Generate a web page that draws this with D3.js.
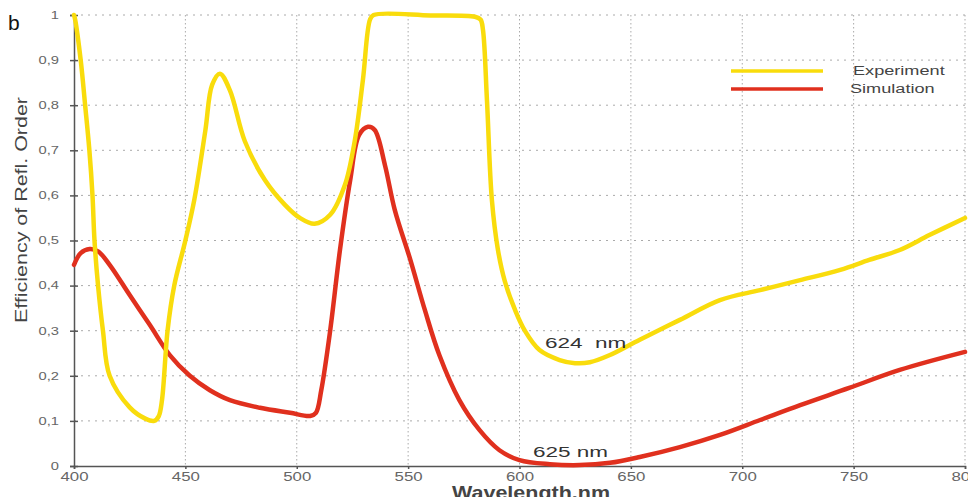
<!DOCTYPE html>
<html>
<head>
<meta charset="utf-8">
<script src="https://cdn.jsdelivr.net/npm/d3@7"></script>
<style>
  body { margin: 0; background: #fff; }
  svg { display: block; font-family: "Liberation Sans", Arial, sans-serif; }
</style>
</head>
<body>
<svg id="chart" width="968" height="497"></svg>
<script>
// wavelength (nm) / efficiency
const expWl = [400, 400.5, 403, 405, 406.9, 408.3, 409.2, 410.8, 413, 416, 425, 432, 436, 438, 439.5, 442, 445, 450, 454, 459, 462, 465.5, 470, 476.7, 485.7, 494.7, 501.4, 508, 515, 521.6, 526, 529.7, 532.9, 534.5, 560, 580, 582.5, 583.6, 585.4, 587.6, 590.3, 593.4, 598, 602.4, 609, 618, 624.9, 631.6, 640.6, 654, 672, 690, 708, 726, 744, 757, 770.7, 784, 800];
const expVal = [1.0, 0.99, 0.9, 0.8, 0.7, 0.6, 0.5, 0.4, 0.3, 0.2, 0.13, 0.105, 0.1, 0.11, 0.146, 0.30, 0.40, 0.50, 0.59, 0.745, 0.845, 0.87, 0.833, 0.72, 0.634, 0.579, 0.55, 0.537, 0.557, 0.623, 0.72, 0.856, 0.99, 1.0, 0.999, 0.996, 0.99, 0.967, 0.81, 0.59, 0.48, 0.41, 0.346, 0.30, 0.257, 0.235, 0.228, 0.23, 0.246, 0.28, 0.324, 0.368, 0.39, 0.412, 0.435, 0.457, 0.479, 0.512, 0.55];

const simWl = [400, 403, 407, 410.8, 416, 425, 434, 443, 452, 461, 470, 483.5, 497, 506, 508.6, 511, 515, 519.4, 524, 528, 532, 535, 539.6, 544, 551, 557.5, 564, 573, 582, 591, 600, 613.6, 627, 640.6, 654, 672, 690, 708, 726, 748, 770.7, 800];
const simVal = [0.446, 0.472, 0.481, 0.476, 0.446, 0.379, 0.313, 0.246, 0.20, 0.168, 0.146, 0.129, 0.118, 0.111, 0.118, 0.168, 0.30, 0.479, 0.634, 0.734, 0.752, 0.745, 0.667, 0.568, 0.457, 0.346, 0.246, 0.146, 0.08, 0.035, 0.013, 0.004, 0.002, 0.007, 0.02, 0.042, 0.069, 0.102, 0.135, 0.173, 0.213, 0.253];

const xTicks = [400, 450, 500, 550, 600, 650, 700, 750, 800];
const yTicks = [0, 0.1, 0.2, 0.3, 0.4, 0.5, 0.6, 0.7, 0.8, 0.9, 1];
const seriesNames = ["Experiment", "Simulation"];
const seriesColors = ["#f9dc0c", "#e0301e"];

const svg = d3.select('#chart');
const x = d3.scaleLinear().domain([400, 800]).range([74, 965]);
const y = d3.scaleLinear().domain([0, 1]).range([466, 15]);

// the original's lettering is stretched sideways
const stretch = (sel, k) => sel.each(function() {
    const w = this.getComputedTextLength();
    d3.select(this).attr('textLength', w * k).attr('lengthAdjust', 'spacingAndGlyphs');
});

// grid
svg.append('g').selectAll('line')
    .data(yTicks.filter(d => d > 0))
    .enter().append('line')
    .attr('x1', 74).attr('x2', 965)
    .attr('y1', d => y(d)).attr('y2', d => y(d))
    .attr('stroke', '#aaa').attr('stroke-width', 1)
    .attr('stroke-dasharray', '2,5');

svg.append('g').selectAll('line')
    .data(xTicks.filter(d => d > 400))
    .enter().append('line')
    .attr('x1', d => x(d)).attr('x2', d => x(d))
    .attr('y1', 15).attr('y2', 466)
    .attr('stroke', '#aaa').attr('stroke-width', 1)
    .attr('stroke-dasharray', '1.5,2.5');

// axes
const fmt = d => d === 0 || d === 1 ? String(d) : d3.format('.1f')(d).replace('.', ',');
const yAxis = svg.append('g').attr('transform', 'translate(74,0)')
    .call(d3.axisLeft(y).tickValues(yTicks).tickFormat(fmt).tickSize(4).tickPadding(11));
const xAxis = svg.append('g').attr('transform', 'translate(0,466)')
    .call(d3.axisBottom(x).tickValues(xTicks).tickSize(3).tickPadding(3));

[yAxis, xAxis].forEach(a => {
    a.select('.domain').attr('stroke', '#555').attr('stroke-width', 1.5);
    a.selectAll('.tick line').attr('stroke', '#555').attr('stroke-width', 1.5);
    a.selectAll('text').attr('fill', '#666').attr('font-family', 'Liberation Sans, Arial, sans-serif');
});
yAxis.selectAll('text').attr('font-size', 10.5).call(stretch, 1.4);
xAxis.selectAll('text').attr('font-size', 12).call(stretch, 1.4);
yAxis.selectAll('.tick').append('line').attr('x2', 4).attr('stroke', '#555').attr('stroke-width', 1.5);

// curves
const line = d3.line().x(d => x(d[0])).y(d => y(d[1])).curve(d3.curveCatmullRom.alpha(0.5));
const series = [d3.zip(expWl, expVal), d3.zip(simWl, simVal)];

svg.selectAll('path.series')
    .data([series[1], series[0]])
    .enter().append('path')
    .attr('class', 'series')
    .attr('d', line)
    .attr('fill', 'none')
    .attr('stroke', (d, i) => seriesColors[1 - i])
    .attr('stroke-width', 4.5)
    .attr('stroke-linejoin', 'round')
    .attr('stroke-linecap', 'round');

// legend
const legend = svg.append('g');
seriesNames.forEach((name, i) => {
    const ly = 71 + i * 18;
    legend.append('line')
        .attr('x1', 731).attr('x2', 823).attr('y1', ly).attr('y2', ly)
        .attr('stroke', seriesColors[i]).attr('stroke-width', 3.5);
    legend.append('text')
        .attr('x', i === 0 ? 853 : 850).attr('y', ly + 4)
        .attr('font-size', 12.5).attr('fill', '#444')
        .text(name)
        .call(stretch, 1.45);
});

// annotations
svg.append('text').attr('x', 545).attr('y', 348)
    .attr('font-size', 15).attr('fill', '#333').attr('xml:space', 'preserve')
    .text('624  nm').call(stretch, 1.5);
svg.append('text').attr('x', 533).attr('y', 457)
    .attr('font-size', 15).attr('fill', '#333')
    .text('625 nm').call(stretch, 1.5);

// labels
svg.append('text').attr('x', 8).attr('y', 30)
    .attr('font-size', 21).attr('fill', '#111').text('b');
svg.append('text')
    .attr('transform', 'translate(27,210) rotate(-90)')
    .attr('text-anchor', 'middle').attr('font-size', 16).attr('fill', '#444')
    .text('Efficiency of Refl. Order')
    .attr('textLength', 226).attr('lengthAdjust', 'spacingAndGlyphs');
svg.append('text').attr('x', 531).attr('y', 499)
    .attr('text-anchor', 'middle').attr('font-size', 19).attr('font-weight', 'bold').attr('fill', '#444')
    .text('Wavelength,nm')
    .attr('textLength', 158).attr('lengthAdjust', 'spacingAndGlyphs');
</script>
</body>
</html>
